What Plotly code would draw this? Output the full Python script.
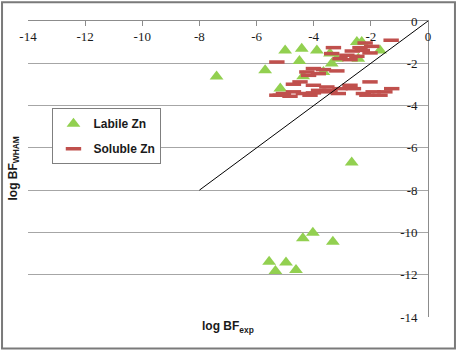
import plotly.graph_objects as go

# ---- data ----
labile_x = [-7.40, -5.70, -5.00, -4.42, -3.89, -4.50, -5.17, -4.37, -2.49, -2.32,
            -1.68, -2.44, -3.43, -3.19, -3.66, -3.37, -2.67,
            -4.38, -4.03, -3.33, -5.56, -4.97, -5.34, -4.62]
labile_y = [-2.62, -2.33, -1.39, -1.31, -1.39, -1.89, -3.19, -2.61, -0.99, -0.99,
            -1.39, -1.78, -1.54, -1.78, -2.41, -2.01, -6.69,
            -10.28, -10.02, -10.44, -11.39, -11.42, -11.83, -11.78]

soluble_x = [-1.29, -2.20, -1.97, -2.38, -3.31, -2.65, -2.30, -2.03, -3.37, -2.84,
             -2.49, -3.08, -2.73, -5.29, -4.01, -3.66, -3.19, -4.24, -3.84, -4.18,
             -4.48, -2.03, -4.71, -4.01, -2.73, -3.54, -1.27, -3.08, -2.61, -3.83,
             -3.43, -4.71, -1.92, -1.51, -5.06, -4.36, -4.01, -3.14, -2.26, -5.29,
             -1.68, -2.14, -4.83, -3.66, -4.13, -5.17]
soluble_y = [-0.91, -1.04, -1.20, -1.26, -1.26, -1.42, -1.39, -1.51, -1.54, -1.62,
             -1.67, -1.78, -1.83, -1.94, -2.25, -2.30, -2.36, -2.41, -2.49, -2.57,
             -2.88, -2.88, -2.99, -3.04, -3.04, -3.12, -3.20, -3.20, -3.20, -3.28,
             -3.28, -3.35, -3.35, -3.35, -3.43, -3.43, -3.40, -3.43, -3.43, -3.51,
             -3.51, -3.51, -3.56, -3.35, -3.51, -3.51]

one_to_one = [-8, 0]
x_ticks = [-14, -12, -10, -8, -6, -4, -2, 0]
y_ticks = [0, -2, -4, -6, -8, -10, -12, -14]

# ---- layout geometry ----
W, H = 459, 353
ML, MR, MT, MB = 27.5, 31, 20.7, 36
PW = W - ML - MR
PH = H - MT - MB


def pxx(x):
    return (x - ML) / PW


def pxy(y):
    return (H - MB - y) / PH


GREEN = "#92D050"
RED = "#C0504D"
GRID = "#A6A6A6"
TICKFONT = dict(family="Liberation Serif, DejaVu Serif, serif", size=13, color="#1a1a1a")
TITLEFONT = dict(family="Liberation Sans, Arial, sans-serif", size=12, color="#1a1a1a")

fig = go.Figure()
fig.add_trace(go.Scatter(
    x=labile_x, y=labile_y, mode="markers", name="Labile Zn",
    legendgroup="a",
    marker=dict(symbol="triangle-up", size=12, color=GREEN, line=dict(width=0)),
))
fig.add_trace(go.Scatter(
    x=soluble_x, y=soluble_y, mode="markers", name="Soluble Zn",
    legendgroup="b",
    marker=dict(symbol="line-ew", size=11, color=RED, line=dict(width=3.5, color=RED)),
))
fig.add_trace(go.Scatter(
    x=one_to_one, y=one_to_one, mode="lines", showlegend=False,
    line=dict(color="#000000", width=1), hoverinfo="skip",
))

fig.update_layout(
    width=W, height=H,
    margin=dict(l=ML, r=MR, t=MT, b=MB, pad=0),
    paper_bgcolor="white", plot_bgcolor="white",
    showlegend=True,
    legend=dict(
        x=pxx(52), y=pxy(108), xanchor="left", yanchor="top",
        bordercolor="#7F7F7F", borderwidth=1, bgcolor="white",
        font=dict(family="Liberation Sans, Arial, sans-serif", size=12,
                  color="#1a1a1a", weight="bold"),
        tracegroupgap=6, itemwidth=30, traceorder="grouped",
    ),
    xaxis=dict(
        range=[-14, 0], side="top", tickmode="array", tickvals=x_ticks,
        ticktext=[str(v) for v in x_ticks],
        ticks="inside", ticklen=5, tickcolor="#8C8C8C",
        ticklabelposition="inside", ticklabelstandoff=6, ticklabeloverflow="allow",
        showline=True, linecolor="#8C8C8C", linewidth=1,
        showgrid=False, zeroline=False, tickfont=TICKFONT,
    ),
    yaxis=dict(
        range=[-14, 0], side="right", tickmode="array", tickvals=y_ticks,
        ticktext=[str(v) for v in y_ticks],
        ticks="", ticklabelposition="inside", ticklabelstandoff=10,
        ticklabeloverflow="allow",
        showline=True, linecolor="#8C8C8C", linewidth=1,
        showgrid=True, gridcolor=GRID, gridwidth=1,
        zeroline=False, tickfont=TICKFONT,
    ),
    annotations=[
        dict(text="<b>log BF<sub>exp</sub></b>", xref="paper", yref="paper",
             x=0.5, y=pxy(327), xanchor="center", yanchor="middle",
             showarrow=False, font=TITLEFONT),
        dict(text="<b>log BF<sub>WHAM</sub></b>", xref="paper", yref="paper",
             x=pxx(13), y=0.5, xanchor="center", yanchor="middle",
             textangle=-90, showarrow=False, font=TITLEFONT),
    ],
    shapes=[
        dict(type="rect", xref="paper", yref="paper",
             x0=pxx(1.5), x1=pxx(455), y0=pxy(348.5), y1=pxy(2),
             line=dict(color="#7A7A7A", width=2), fillcolor="rgba(0,0,0,0)",
             layer="below"),
    ],
)

fig.write_html("out.html")
